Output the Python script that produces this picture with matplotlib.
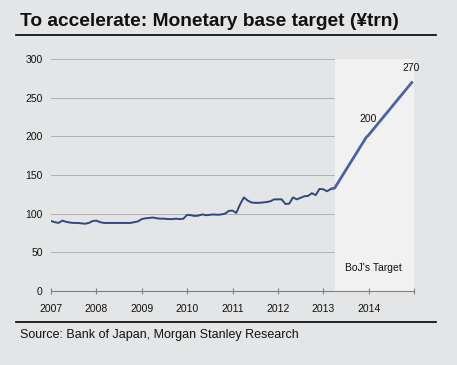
import matplotlib
matplotlib.use("Agg")
import matplotlib.pyplot as plt
import numpy as np

# Monthly monetary base (¥trn), Jan 2007 .. Mar 2013
hist_values = [
    90.5, 89, 88, 91, 89.5, 88.5, 88, 88, 87.5, 87, 88, 90.5,
    91, 89, 88, 88, 88, 88, 88, 88, 88, 88, 89, 90,
    93, 94, 94.5, 95, 94, 93.5, 93.5, 93, 93, 93.5, 93, 93.5,
    98.5, 98, 97, 97.5, 99, 98, 98.5, 99, 98.5, 99, 100, 103.5,
    104, 101, 112, 121, 117, 114.5, 114, 114, 114.5, 115, 116, 118.5,
    118.5, 118.5, 112.5, 113, 121, 118.5, 120.5, 122.5, 123, 126.5, 124, 132,
    131.5, 129, 132,
]
hist_start_year = 2007
# BoJ target path
target_x = [2013.17, 2013.25, 2013.95, 2013.99, 2014.97]
target_values = [132, 133, 199, 201, 271]
target_labels = ["200", "270"]
target_label_vals = [200, 270]
target_label_x = [2013.99, 2014.93]
shade_range = (2013.25, 2015.0)
year_ticks = list(range(2007, 2016))
year_labels = [str(y) for y in range(2007, 2015)] + [""]
y_ticks = [0, 50, 100, 150, 200, 250, 300]

plt.rcParams['font.family'] = ['Liberation Sans', 'DejaVu Sans']
bg = '#e4e5e6'
fig = plt.figure(figsize=(4.57, 3.65), dpi=100, facecolor=bg)
ax = fig.add_axes([51/457, 74/365, 363/457, 232/365])
ax.set_facecolor(bg)

hx = hist_start_year + np.arange(len(hist_values)) / 12.0
ax.axvspan(*shade_range, color='#f1f1f1', zorder=1, lw=0)
for y in y_ticks[1:]:
    ax.axhline(y, color='#b0b0b0', lw=0.7, zorder=0.5)
ax.plot(hx, hist_values, color='#34467e', lw=1.4, zorder=3)
ax.plot(target_x, target_values, color='#4d62a0', lw=2.0, zorder=3, solid_capstyle='butt')

offsets = [22, 19]
for lab, v, x, off in zip(target_labels, target_label_vals, target_label_x, offsets):
    ax.text(x, v + off, lab, ha='center', va='center', fontsize=7.5, color='#111111', zorder=4)
ax.text(2014.10, 30, "BoJ's Target", ha='center', va='center', fontsize=7.5, color='#111111', zorder=4)

ax.set_xlim(2007, 2015)
ax.set_ylim(0, 300)
ax.set_xticks(year_ticks)
ax.set_xticklabels(year_labels)
ax.set_yticks(y_ticks)
ax.set_yticklabels([str(v) for v in y_ticks])
for s in ['top', 'right', 'left']:
    ax.spines[s].set_visible(False)
ax.spines['bottom'].set_color('#808080')
ax.spines['bottom'].set_linewidth(0.8)
ax.spines['bottom'].set_zorder(5)
ax.tick_params(axis='x', direction='inout', length=4, color='#808080', width=0.8, labelsize=7.5, pad=7, labelcolor='#111111')
ax.tick_params(axis='y', length=0, labelsize=7.5, pad=6, labelcolor='#111111')

fig.text(20/457, 1 - 26.5/365, "To accelerate: Monetary base target (¥trn)", fontsize=13.8, fontweight='bold', ha='left', va='baseline', color='#111111')
fig.add_artist(plt.Line2D([16/457, 436/457], [1 - 34.5/365, 1 - 34.5/365], color='black', lw=1.2))
fig.add_artist(plt.Line2D([16/457, 436/457], [1 - 321.5/365, 1 - 321.5/365], color='black', lw=1.2))
fig.text(20/457, 1 - 338/365, "Source: Bank of Japan, Morgan Stanley Research", fontsize=9, ha='left', va='baseline', color='#111111')

fig.savefig("out.png", dpi=100, facecolor=bg)
